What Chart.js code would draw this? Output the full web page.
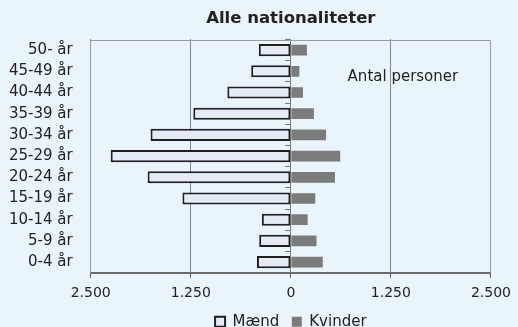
<!DOCTYPE html>
<html lang="da">
<head>
<meta charset="utf-8">
<title>Alle nationaliteter</title>
<script src="https://cdn.jsdelivr.net/npm/chart.js@4/dist/chart.umd.min.js"></script>
<style>
  html, body { margin: 0; padding: 0; background: #eaf5fb; }
  #wrap { width: 518px; height: 327px; }
</style>
</head>
<body>
<div id="wrap"><canvas id="pyramid" width="518" height="327"></canvas></div>
<script>
'use strict';

/* ── Data: top row first ── */
const ageGroups = ['50- år', '45-49 år', '40-44 år', '35-39 år', '30-34 år', '25-29 år',
                   '20-24 år', '15-19 år', '10-14 år', '5-9 år', '0-4 år'];
const men   = [400, 495, 793, 1218, 1752, 2250, 1789, 1354, 362, 395, 423];
const women = [201, 107, 152, 288, 440, 617, 551, 305, 210, 321, 399];
const xTicks = [-2500, -1250, 0, 1250, 2500];

// 2500 -> "2.500"
const fmt = v => String(v).replace(/\B(?=(\d{3})+(?!\d))/g, '.');

Chart.defaults.font.family = "'DejaVu Sans', sans-serif";
Chart.defaults.color = '#222';

/* ── Frame on top and right of the plot ── */
const frame = {
  id: 'frame',
  beforeDatasetsDraw(chart) {
    const { ctx, chartArea: a } = chart;
    ctx.save();
    ctx.strokeStyle = '#9a9a9a';
    ctx.lineWidth = 1;
    ctx.beginPath();
    ctx.moveTo(a.left, Math.round(a.top) + 0.5);
    ctx.lineTo(Math.round(a.right) - 0.5, Math.round(a.top) + 0.5);
    ctx.lineTo(Math.round(a.right) - 0.5, a.bottom);
    ctx.stroke();
    ctx.restore();
  }
};

/* ── Unit note inside the plot ── */
const unitNote = {
  id: 'unitNote',
  afterDatasetsDraw(chart) {
    const { ctx, chartArea: a, scales: { x } } = chart;
    ctx.save();
    ctx.font = "15px 'DejaVu Sans'";
    ctx.fillStyle = '#222';
    ctx.textAlign = 'center';
    ctx.textBaseline = 'middle';
    ctx.fillText('Antal personer', x.getPixelForValue(1400), a.top + 38);
    ctx.restore();
  }
};

new Chart(document.getElementById('pyramid'), {
  type: 'bar',
  data: {
    labels: ageGroups,
    datasets: [
      {
        label: 'Mænd',
        data: men.map(v => -v),
        backgroundColor: '#e4ebf2',
        borderColor: '#1f1f1f',
        borderWidth: 2,
        borderSkipped: false,
        categoryPercentage: 1,
        barPercentage: 0.57
      },
      {
        label: 'Kvinder',
        data: women,
        backgroundColor: '#7b7b7b',
        borderWidth: 0,
        categoryPercentage: 1,
        barPercentage: 0.505
      }
    ]
  },
  options: {
    indexAxis: 'y',
    responsive: false,
    animation: false,
    devicePixelRatio: 1,
    layout: { padding: { left: 0, right: 22.7, top: 0, bottom: -12.2 } },
    plugins: {
      title: {
        display: true,
        fullSize: false,
        text: 'Alle nationaliteter',
        color: '#222',
        font: { size: 16.5, weight: 'bold' },
        padding: { top: 8.4, bottom: 11.3 }
      },
      legend: {
        position: 'bottom',
        fullSize: false,
        labels: { boxWidth: 10, boxHeight: 10, padding: 12.5, color: '#222', font: { size: 15 } }
      },
      tooltip: { enabled: false }
    },
    scales: {
      x: {
        type: 'linear',
        min: -2500,
        max: 2500,
        stacked: true,
        afterBuildTicks: s => { s.ticks = xTicks.map(value => ({ value })); },
        afterFit: s => { s.height = 29; },
        ticks: { callback: v => fmt(Math.abs(v)), font: { size: 14 }, padding: 7, maxRotation: 0, autoSkip: false },
        grid: {
          color: c => (c.tick && Math.abs(c.tick.value) === 1250) ? '#1a1a1a' : 'rgba(0,0,0,0)',
          tickColor: '#555',
          tickLength: 5,
          lineWidth: 1
        },
        border: { color: '#6a6a6a', width: 2, dash: [1, 1] }
      },
      y: {
        stacked: true,
        position: 'left',
        afterFit: s => { s.width = 90.7; },
        ticks: { font: { size: 15 }, padding: 18, autoSkip: false },
        grid: { drawOnChartArea: false, drawTicks: false },
        border: { color: '#9a9a9a', width: 1 }
      },
      // zero line with small ticks between the age groups
      y2: {
        type: 'category',
        axis: 'y',
        position: { x: 0 },
        offset: true,
        ticks: { display: false },
        grid: { offset: true, drawOnChartArea: false, tickLength: 5, color: '#7a7a7a' },
        border: { color: '#7a7a7a', width: 1 }
      }
    }
  },
  plugins: [frame, unitNote]
});
</script>
</body>
</html>
